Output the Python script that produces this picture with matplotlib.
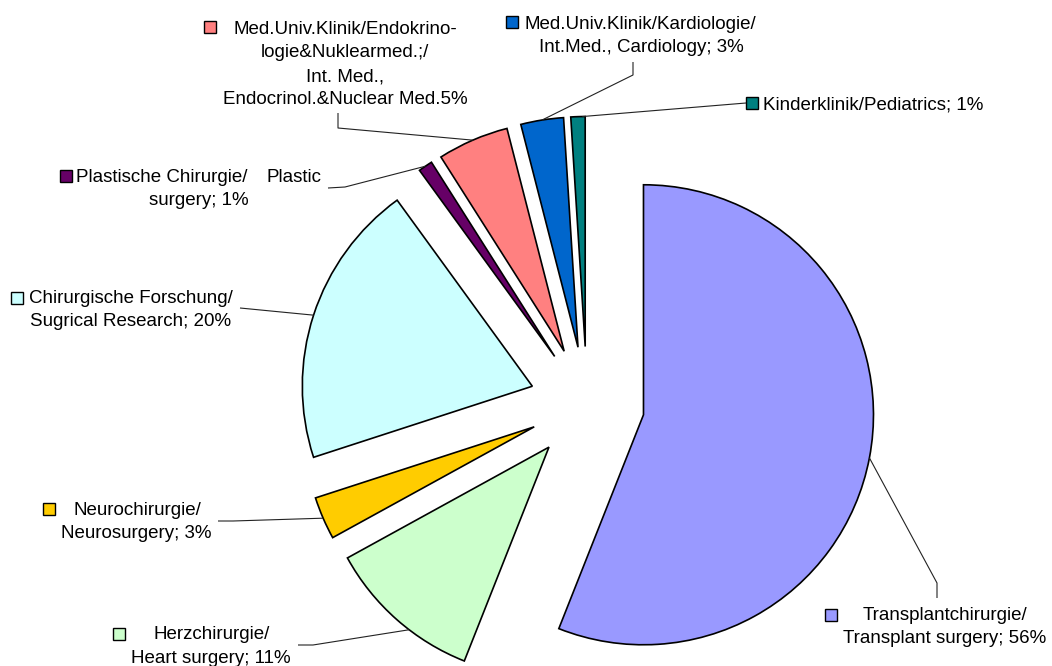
import numpy as np
import matplotlib
matplotlib.use("Agg")
import matplotlib.pyplot as plt
from matplotlib.patches import Rectangle

plt.rcParams['font.family'] = ['Liberation Sans', 'DejaVu Sans']

# ---- data ----
categories = ["Transplantchirurgie/Transplant surgery", "Herzchirurgie/Heart surgery",
              "Neurochirurgie/Neurosurgery", "Chirurgische Forschung/Sugrical Research",
              "Plastische Chirurgie/Plastic surgery",
              "Med.Univ.Klinik/Endokrinologie&Nuklearmed.;/Int. Med., Endocrinol.&Nuclear Med.",
              "Med.Univ.Klinik/Kardiologie/Int.Med., Cardiology",
              "Kinderklinik/Pediatrics"]
values = [56, 11, 3, 20, 1, 5, 3, 1]
colors = ["#9999FF", "#CCFFCC", "#FFCC00", "#CCFFFF", "#660066", "#FF8080", "#0066CC", "#008080"]

# label text lines for each slice (same order as values)
label_lines = [
    ["Transplantchirurgie/", "Transplant surgery; 56%"],
    ["Herzchirurgie/", "Heart surgery; 11%"],
    ["Neurochirurgie/", "Neurosurgery; 3%"],
    ["Chirurgische Forschung/", "Sugrical Research; 20%"],
    ["Plastische Chirurgie/", "surgery; 1%"],
    ["Med.Univ.Klinik/Endokrino-", "logie&Nuklearmed.;/", "Int. Med.,", "Endocrinol.&Nuclear Med.5%"],
    ["Med.Univ.Klinik/Kardiologie/", "Int.Med., Cardiology; 3%"],
    ["Kinderklinik/Pediatrics; 1%"],
]

W, H = 1052, 666
fig = plt.figure(figsize=(W / 100, H / 100), dpi=100)
ax = fig.add_axes([0, 0, 1, 1])

R = 230
wedges, _ = ax.pie(values, colors=colors, startangle=-90, counterclock=True,
                   explode=[0.25 * R] * len(values), center=(587, 404), radius=R,
                   wedgeprops=dict(edgecolor="black", linewidth=1.2))
ax.set_xlim(0, W)
ax.set_ylim(H, 0)
ax.set_aspect("equal")
ax.axis("off")

FS = 13.5
LC = "#222222"
LW = 0.8


def anchor(i, f=0.5):
    w = wedges[i]
    t = np.deg2rad(w.theta1 + f * (w.theta2 - w.theta1))
    return w.center[0] + w.r * np.cos(t), w.center[1] + w.r * np.sin(t)


def square(x, y, c, s=12):
    ax.add_patch(Rectangle((x, y), s, s, facecolor=c, edgecolor="black", linewidth=1.0, zorder=5))


def txt(x, y, s, ha="center"):
    ax.text(x, y, s, ha=ha, va="baseline", fontsize=FS, color="black")


def leader(pts):
    xs, ys = zip(*pts)
    ax.plot(xs, ys, color=LC, lw=LW, solid_capstyle="butt")


# Transplant
square(825, 609, colors[0])
txt(945, 620, label_lines[0][0])
txt(945, 643, label_lines[0][1])
leader([anchor(0), (937, 583), (937, 598)])

# Heart
square(113, 628, colors[1])
txt(212, 639, label_lines[1][0])
txt(211, 663, label_lines[1][1])
leader([(298, 645), (313, 645), anchor(1, 0.4)])

# Neuro
square(43, 503, colors[2])
txt(137, 515, label_lines[2][0])
txt(136, 538, label_lines[2][1])
leader([(218, 521), (233, 521), anchor(2)])

# Forschung
square(11, 292, colors[3])
txt(131, 303, label_lines[3][0])
txt(131, 326, label_lines[3][1])
leader([(240, 308), anchor(3)])

# Plastic
square(60, 170, colors[4])
txt(248, 182, label_lines[4][0], ha="right")
txt(267, 182, "Plastic", ha="left")
txt(249, 205, label_lines[4][1], ha="right")
leader([(328, 188), (345, 187), anchor(4)])

# Endokrin
square(204, 21, colors[5])
for yy, s in zip([34, 57, 81, 104], label_lines[5]):
    txt(345, yy, s)
leader([(338, 113), (338, 128), anchor(5)])

# Kardio
square(506, 16, colors[6])
txt(640, 29, label_lines[6][0])
txt(641, 52, label_lines[6][1])
leader([(633, 62), (633, 75), anchor(6)])

# Kinder
square(746, 97, colors[7])
txt(763, 110, label_lines[7][0], ha="left")
leader([anchor(7, 0.8), (746, 103)])

fig.savefig("out.png", dpi=100, facecolor="white")
